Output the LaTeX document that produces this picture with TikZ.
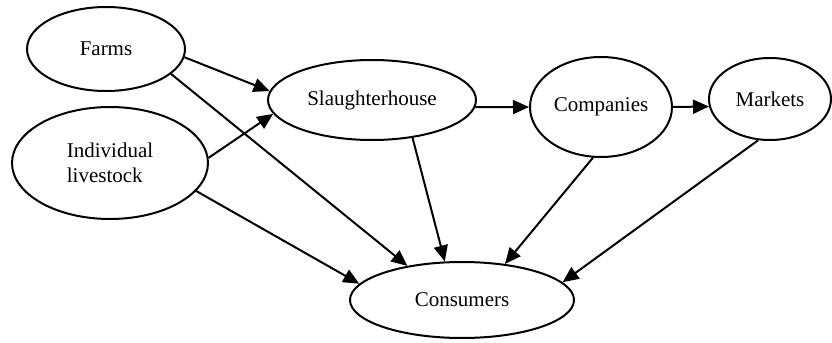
\documentclass[tikz,border=0pt]{standalone}
\usepackage{fontspec}
\setmainfont{Liberation Serif}
\usepackage{tikz}
\usetikzlibrary{shapes.geometric, arrows.meta, positioning}
\tikzstyle{stage} = [ellipse, draw=black, line width=1pt, inner sep=0pt, font=\fontsize{10.5}{12.5}\selectfont]
\tikzstyle{arrow} = [line width=1pt, -{Triangle[length=8pt,width=7pt]}]

\begin{document}
\begin{tikzpicture}[x=0.5pt, y=-0.5pt]
    \useasboundingbox (0,0) rectangle (832,343);
    \node[stage, minimum width=79pt, minimum height=42pt] (farms) at (106,49) {Farms};
    \node[stage, minimum width=98pt, minimum height=56pt, align=left] (livestock) at (110,163) {Individual\\livestock};
    \node[stage, minimum width=104pt, minimum height=40pt] (slaughter) at (372,100) {Slaughterhouse};
    \node[stage, minimum width=71pt, minimum height=50pt] (companies) at (601,107) {Companies};
    \node[stage, minimum width=61pt, minimum height=41pt] (markets) at (770,99) {Markets};
    \node[stage, minimum width=112pt, minimum height=38pt] (consumers) at (462,300) {Consumers};
    % supply chain
    \draw[arrow] (farms.-6) -- (slaughter.175);
    \draw[arrow] (livestock.3) -- (slaughter.188);
    \draw[arrow] (slaughter.-4) -- (companies.west);
    \draw[arrow] (companies.east) -- (markets.187);
    % direct sales to consumers
    \draw[arrow] (farms.-21) -- (consumers.148);
    \draw[arrow] (livestock.-18) -- (consumers.171);
    \draw[arrow] (slaughter.-43) -- (consumers.114);
    \draw[arrow] (companies.261) -- (consumers.40);
    \draw[arrow] (markets.254) -- (consumers.10);
\end{tikzpicture}
\end{document}
